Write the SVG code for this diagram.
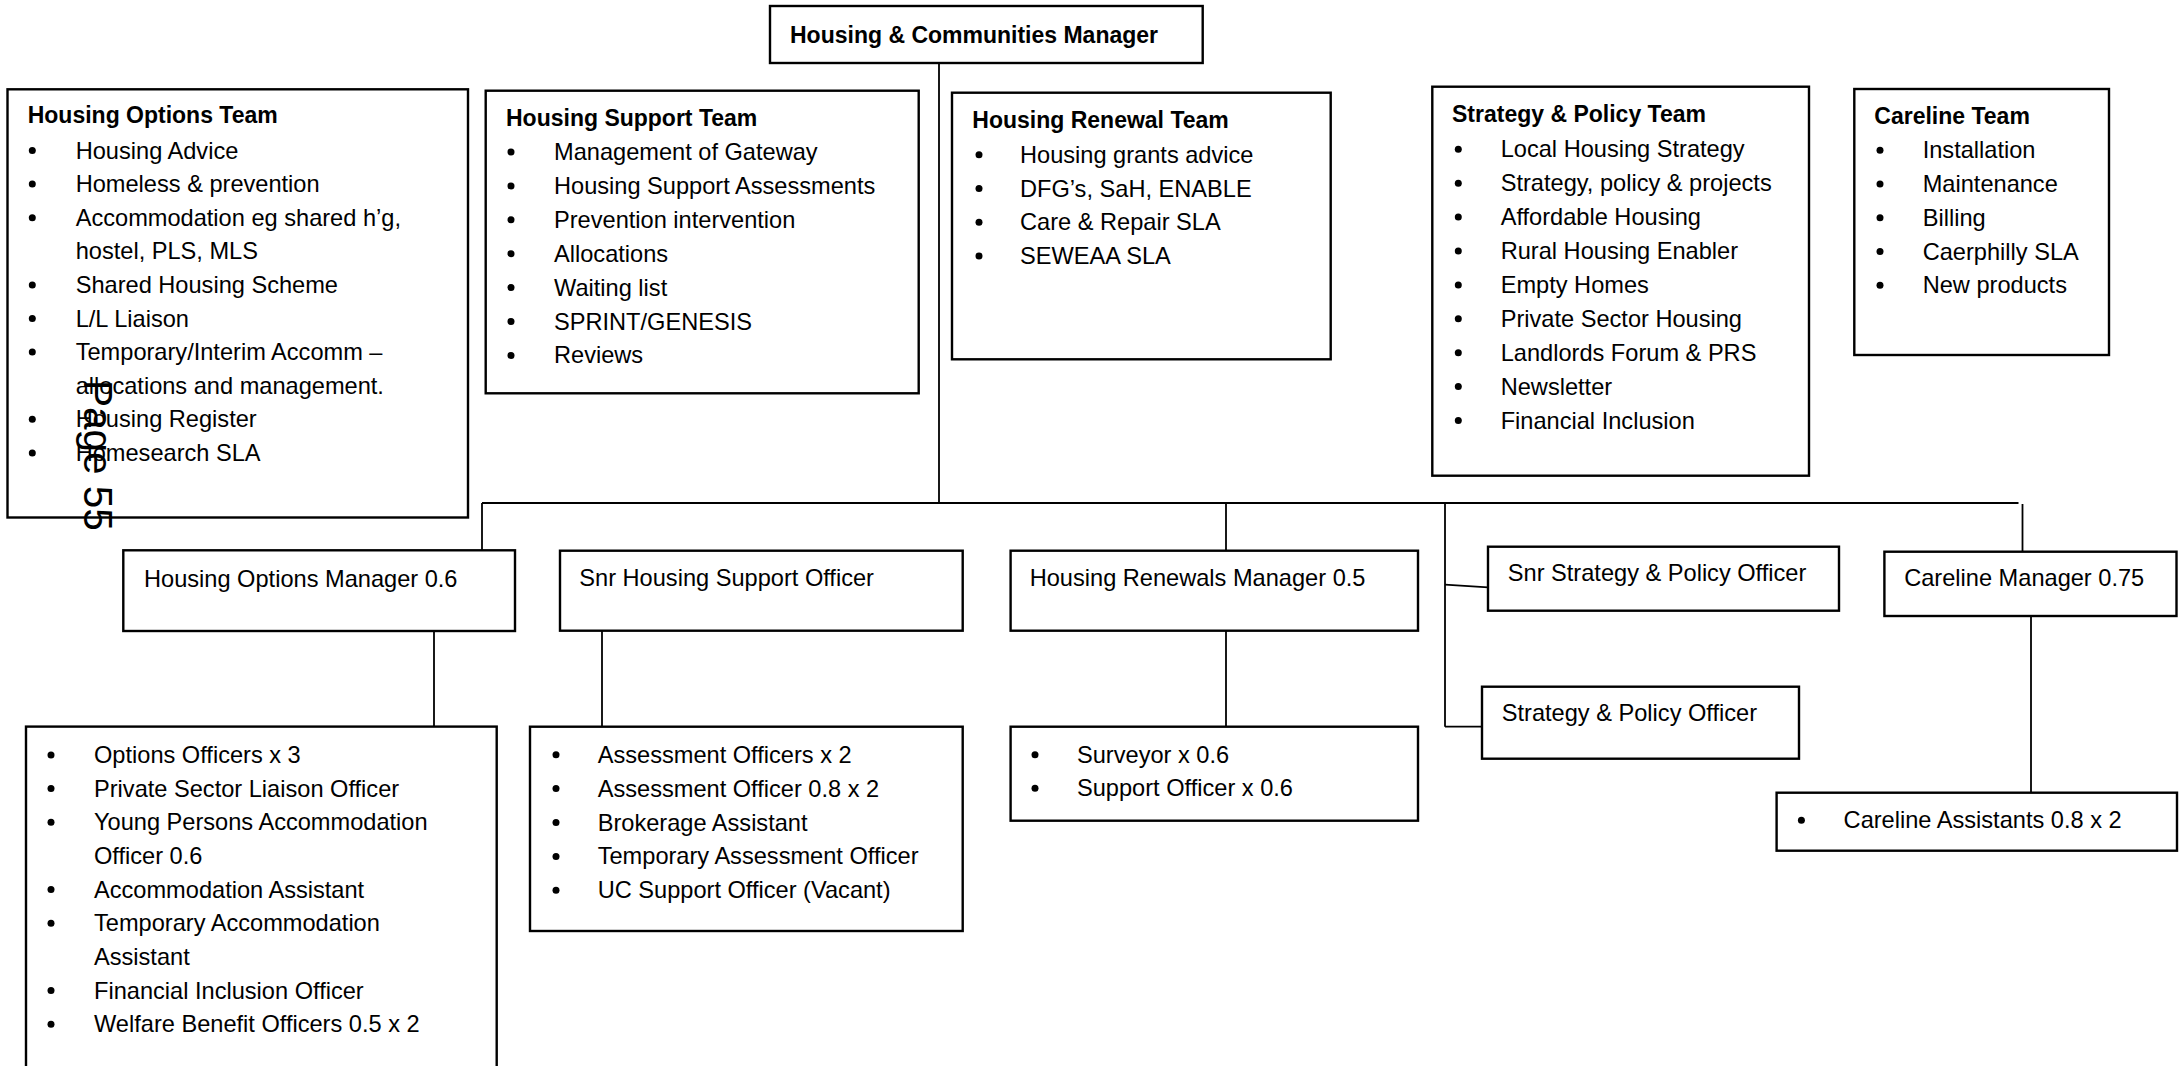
<svg xmlns="http://www.w3.org/2000/svg" width="2179" height="1066" viewBox="0 0 2179 1066">
<style>
.box{fill:#fff;stroke:#000;stroke-width:2.4}
text{font-family:"Liberation Sans",Arial,sans-serif;font-size:23.6px;fill:#000}
.b{font-weight:bold;font-size:23px}
.conn path{stroke:#000;stroke-width:1.8;fill:none}
.pg{font-size:40.5px}
</style>
<defs><circle id="bul" r="3.5" fill="#000"/></defs>
<rect width="2179" height="1066" fill="#fff"/>
<g class="conn" id="connectors">
<path d="M939 63V503"/>
<path d="M482 503H2018.5"/>
<path d="M482 503V550.3"/>
<path d="M434 631V726.6"/>
<path d="M602 630.7V726.7"/>
<path d="M1226 503V550.7"/>
<path d="M1226 630.7V726.7"/>
<path d="M1445 503V726.7"/>
<path d="M1445 584.7L1488 587.3"/>
<path d="M1445 726.7H1482"/>
<path d="M2022.5 504V551.7"/>
<path d="M2031 616V792.7"/>
</g>
<g id="housing-communities-manager">
<rect class="box" x="770" y="6" width="432.7" height="57"/>
<text class="b" x="790" y="42.7">Housing &amp; Communities Manager</text>
</g>
<g id="housing-options-team">
<rect class="box" x="7.5" y="89.3" width="460.5" height="428.2"/>
<text class="b" x="27.7" y="123.3">Housing Options Team</text>
<use href="#bul" x="32.3" y="150.5"/><text x="75.7" y="158.5">Housing Advice</text>
<use href="#bul" x="32.3" y="184.1"/><text x="75.7" y="192.1">Homeless &amp; prevention</text>
<use href="#bul" x="32.3" y="217.7"/><text x="75.7" y="225.7">Accommodation eg shared h’g,</text>
<text x="75.7" y="259.3">hostel, PLS, MLS</text>
<use href="#bul" x="32.3" y="284.9"/><text x="75.7" y="292.9">Shared Housing Scheme</text>
<use href="#bul" x="32.3" y="318.5"/><text x="75.7" y="326.5">L/L Liaison</text>
<use href="#bul" x="32.3" y="352.1"/><text x="75.7" y="360.1">Temporary/Interim Accomm –</text>
<text x="75.7" y="393.7">allocations and management.</text>
<use href="#bul" x="32.3" y="419.3"/><text x="75.7" y="427.3">Housing Register</text>
<use href="#bul" x="32.3" y="452.9"/><text x="75.7" y="460.9">Homesearch SLA</text>
</g>
<g id="housing-support-team">
<rect class="box" x="485.7" y="90.7" width="433" height="302.6"/>
<text class="b" x="506" y="126">Housing Support Team</text>
<use href="#bul" x="511" y="152"/><text x="554" y="160">Management of Gateway</text>
<use href="#bul" x="511" y="185.9"/><text x="554" y="193.9">Housing Support Assessments</text>
<use href="#bul" x="511" y="219.8"/><text x="554" y="227.8">Prevention intervention</text>
<use href="#bul" x="511" y="253.7"/><text x="554" y="261.7">Allocations</text>
<use href="#bul" x="511" y="287.6"/><text x="554" y="295.6">Waiting list</text>
<use href="#bul" x="511" y="321.5"/><text x="554" y="329.5">SPRINT/GENESIS</text>
<use href="#bul" x="511" y="355.4"/><text x="554" y="363.4">Reviews</text>
</g>
<g id="housing-renewal-team">
<rect class="box" x="952" y="92.7" width="378.7" height="266.6"/>
<text class="b" x="972.3" y="127.7">Housing Renewal Team</text>
<use href="#bul" x="979" y="154.7"/><text x="1020" y="162.7">Housing grants advice</text>
<use href="#bul" x="979" y="188.5"/><text x="1020" y="196.5">DFG’s, SaH, ENABLE</text>
<use href="#bul" x="979" y="222.3"/><text x="1020" y="230.3">Care &amp; Repair SLA</text>
<use href="#bul" x="979" y="256.1"/><text x="1020" y="264.1">SEWEAA SLA</text>
</g>
<g id="strategy-policy-team">
<rect class="box" x="1432.3" y="86.7" width="376.7" height="389"/>
<text class="b" x="1452" y="122.3">Strategy &amp; Policy Team</text>
<use href="#bul" x="1458.3" y="149.3"/><text x="1500.7" y="157.3">Local Housing Strategy</text>
<use href="#bul" x="1458.3" y="183.2"/><text x="1500.7" y="191.2">Strategy, policy &amp; projects</text>
<use href="#bul" x="1458.3" y="217.1"/><text x="1500.7" y="225.1">Affordable Housing</text>
<use href="#bul" x="1458.3" y="251"/><text x="1500.7" y="259">Rural Housing Enabler</text>
<use href="#bul" x="1458.3" y="284.9"/><text x="1500.7" y="292.9">Empty Homes</text>
<use href="#bul" x="1458.3" y="318.8"/><text x="1500.7" y="326.8">Private Sector Housing</text>
<use href="#bul" x="1458.3" y="352.7"/><text x="1500.7" y="360.7">Landlords Forum &amp; PRS</text>
<use href="#bul" x="1458.3" y="386.6"/><text x="1500.7" y="394.6">Newsletter</text>
<use href="#bul" x="1458.3" y="420.5"/><text x="1500.7" y="428.5">Financial Inclusion</text>
</g>
<g id="careline-team">
<rect class="box" x="1854.3" y="89" width="254.7" height="266"/>
<text class="b" x="1874.3" y="124">Careline Team</text>
<use href="#bul" x="1880" y="150.3"/><text x="1922.7" y="158.3">Installation</text>
<use href="#bul" x="1880" y="184.1"/><text x="1922.7" y="192.1">Maintenance</text>
<use href="#bul" x="1880" y="217.8"/><text x="1922.7" y="225.8">Billing</text>
<use href="#bul" x="1880" y="251.6"/><text x="1922.7" y="259.6">Caerphilly SLA</text>
<use href="#bul" x="1880" y="285.3"/><text x="1922.7" y="293.3">New products</text>
</g>
<g id="housing-options-manager">
<rect class="box" x="123.3" y="550.3" width="391.7" height="80.7"/>
<text x="144" y="586.5">Housing Options Manager 0.6</text>
</g>
<g id="options-staff">
<rect class="box" x="26" y="726.6" width="470.7" height="360"/>
<use href="#bul" x="51" y="755"/><text x="94" y="763">Options Officers x 3</text>
<use href="#bul" x="51" y="788.6"/><text x="94" y="796.6">Private Sector Liaison Officer</text>
<use href="#bul" x="51" y="822.3"/><text x="94" y="830.3">Young Persons Accommodation</text>
<text x="94" y="864">Officer 0.6</text>
<use href="#bul" x="51" y="889.6"/><text x="94" y="897.6">Accommodation Assistant</text>
<use href="#bul" x="51" y="923.3"/><text x="94" y="931.3">Temporary Accommodation</text>
<text x="94" y="965">Assistant</text>
<use href="#bul" x="51" y="990.6"/><text x="94" y="998.6">Financial Inclusion Officer</text>
<use href="#bul" x="51" y="1024.3"/><text x="94" y="1032.3">Welfare Benefit Officers 0.5 x 2</text>
</g>
<g id="snr-housing-support-officer">
<rect class="box" x="560" y="550.7" width="402.7" height="80"/>
<text x="579.3" y="586">Snr Housing Support Officer</text>
</g>
<g id="support-staff">
<rect class="box" x="530" y="726.7" width="432.7" height="204.3"/>
<use href="#bul" x="556" y="754.7"/><text x="597.7" y="762.7">Assessment Officers x 2</text>
<use href="#bul" x="556" y="788.6"/><text x="597.7" y="796.6">Assessment Officer 0.8 x 2</text>
<use href="#bul" x="556" y="822.5"/><text x="597.7" y="830.5">Brokerage Assistant</text>
<use href="#bul" x="556" y="856.4"/><text x="597.7" y="864.4">Temporary Assessment Officer</text>
<use href="#bul" x="556" y="890.3"/><text x="597.7" y="898.3">UC Support Officer (Vacant)</text>
</g>
<g id="housing-renewals-manager">
<rect class="box" x="1010.6" y="550.7" width="407.4" height="80"/>
<text x="1029.7" y="586">Housing Renewals Manager 0.5</text>
</g>
<g id="renewal-staff">
<rect class="box" x="1010.6" y="726.7" width="407.4" height="94"/>
<use href="#bul" x="1035" y="754.7"/><text x="1077" y="762.7">Surveyor x 0.6</text>
<use href="#bul" x="1035" y="788.3"/><text x="1077" y="796.3">Support Officer x 0.6</text>
</g>
<g id="snr-strategy-policy-officer">
<rect class="box" x="1488" y="546.7" width="351" height="64"/>
<text x="1507.8" y="581">Snr Strategy &amp; Policy Officer</text>
</g>
<g id="strategy-policy-officer">
<rect class="box" x="1482" y="686.7" width="317" height="72"/>
<text x="1501.8" y="721">Strategy &amp; Policy Officer</text>
</g>
<g id="careline-manager">
<rect class="box" x="1884.4" y="551.7" width="292.1" height="64.3"/>
<text x="1904.2" y="586">Careline Manager 0.75</text>
</g>
<g id="careline-staff">
<rect class="box" x="1776.6" y="792.7" width="400.4" height="58"/>
<use href="#bul" x="1801.4" y="820.3"/><text x="1843.6" y="828.3">Careline Assistants 0.8 x 2</text>
</g>
<text class="pg" transform="translate(83.5 380) rotate(90)">Page 55</text>
</svg>
